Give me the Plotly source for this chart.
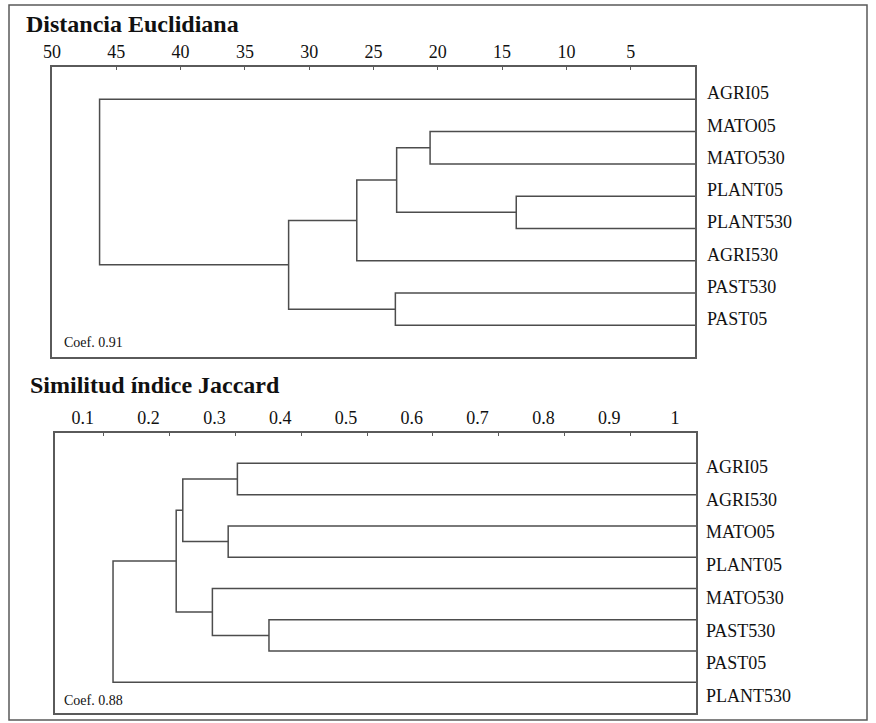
import plotly.graph_objects as go

# ---------------- data ----------------
# Panel 1: Euclidean distance (leaves at distance 0)
euc_leaves = ["AGRI05", "MATO05", "MATO530", "PLANT05", "PLANT530", "AGRI530", "PAST530", "PAST05"]
# merges: node ids 0..7 are leaves, 8.. are merged clusters in order
euc_left = [3, 1, 9, 6, 10, 12, 0]
euc_right = [4, 2, 8, 7, 5, 11, 13]
euc_height = [13.9, 20.6, 23.2, 23.3, 26.3, 31.6, 46.3]
euc_ticks = [50, 45, 40, 35, 30, 25, 20, 15, 10, 5]
euc_coef = "Coef. 0.91"

# Panel 2: Jaccard similarity (leaves at similarity 1)
jac_leaves = ["AGRI05", "AGRI530", "MATO05", "PLANT05", "MATO530", "PAST530", "PAST05", "PLANT530"]
jac_left = [5, 0, 2, 4, 9, 12, 13]
jac_right = [6, 1, 3, 8, 10, 11, 7]
jac_height = [0.351, 0.303, 0.289, 0.265, 0.220, 0.210, 0.114]
jac_ticks = [0.1, 0.2, 0.3, 0.4, 0.5, 0.6, 0.7, 0.8, 0.9, 1.0]
jac_ticktext = ["0.1", "0.2", "0.3", "0.4", "0.5", "0.6", "0.7", "0.8", "0.9", "1"]
jac_coef = "Coef. 0.88"

W, H = 876, 723
SERIF = "Liberation Serif"
LINE_C = "#4d4d4d"
BOX_C = "#5a5a5a"


def px_x(p):
    return p / W


def px_y(p):
    return 1 - p / H


def dendro_path(n_leaves, left, right, height, base):
    ypos = {i: float(i) for i in range(n_leaves)}
    hpos = {i: base for i in range(n_leaves)}
    xs, ys = [], []
    for k, (a, b, h) in enumerate(zip(left, right, height)):
        node = n_leaves + k
        xs += [hpos[a], h, h, hpos[b], None]
        ys += [ypos[a], ypos[a], ypos[b], ypos[b], None]
        ypos[node] = (ypos[a] + ypos[b]) / 2
        hpos[node] = h
    return xs, ys


fig = go.Figure()

ex, ey = dendro_path(len(euc_leaves), euc_left, euc_right, euc_height, 0.0)
fig.add_trace(go.Scatter(x=ex, y=ey, mode="lines", line=dict(color=LINE_C, width=1.5),
                         xaxis="x", yaxis="y", hoverinfo="skip", showlegend=False))

jx, jy = dendro_path(len(jac_leaves), jac_left, jac_right, jac_height, 1.0)
fig.add_trace(go.Scatter(x=jx, y=jy, mode="lines", line=dict(color=LINE_C, width=1.5),
                         xaxis="x2", yaxis="y2", hoverinfo="skip", showlegend=False))

axis_common = dict(showline=True, mirror=True, linecolor=BOX_C, linewidth=1.5,
                   showgrid=False, zeroline=False, automargin=False, fixedrange=True)

fig.update_layout(
    width=W, height=H, autosize=False,
    margin=dict(l=0, r=0, t=0, b=0, pad=0),
    paper_bgcolor="white", plot_bgcolor="white",
    font=dict(family=SERIF, color="#111111"),
    xaxis=dict(domain=[px_x(52), px_x(695)], anchor="y", side="top",
               range=[50, 0], tickmode="array", tickvals=euc_ticks,
               ticks="inside", ticklen=3, tickcolor=BOX_C,
               tickfont=dict(family=SERIF, size=18, color="#111111"),
               **axis_common),
    yaxis=dict(domain=[px_y(357), px_y(67)], anchor="x",
               range=[7.98, -1.0], showticklabels=False, ticks="",
               **axis_common),
    xaxis2=dict(domain=[px_x(55), px_x(696)], anchor="y2", side="top",
                range=[0.0258, 1.0], tickmode="array", tickvals=jac_ticks,
                ticktext=jac_ticktext, ticklabelshift=-21,
                ticks="inside", ticklen=3, tickcolor=BOX_C,
                tickfont=dict(family=SERIF, size=18, color="#111111"),
                **axis_common),
    yaxis2=dict(domain=[px_y(713), px_y(433)], anchor="x2",
                range=[7.98, -0.97], showticklabels=False, ticks="",
                **axis_common),
)

ann = []
# titles
ann.append(dict(text="<b>Distancia Euclidiana</b>", x=px_x(24), y=px_y(24), xref="paper", yref="paper",
                xanchor="left", yanchor="middle", showarrow=False,
                font=dict(family=SERIF, size=24, color="#111111")))
ann.append(dict(text="<b>Similitud índice Jaccard</b>", x=px_x(28), y=px_y(385), xref="paper", yref="paper",
                xanchor="left", yanchor="middle", showarrow=False,
                font=dict(family=SERIF, size=24, color="#111111")))
# coefficients
ann.append(dict(text=euc_coef, x=px_x(62), y=px_y(342.7), xref="paper", yref="paper",
                xanchor="left", yanchor="middle", showarrow=False,
                font=dict(family=SERIF, size=14, color="#111111")))
ann.append(dict(text=jac_coef, x=px_x(62), y=px_y(700), xref="paper", yref="paper",
                xanchor="left", yanchor="middle", showarrow=False,
                font=dict(family=SERIF, size=14, color="#111111")))
# leaf labels
for i, name in enumerate(euc_leaves):
    ann.append(dict(text=name, x=px_x(705), y=i, xref="paper", yref="y",
                    xanchor="left", yanchor="middle", yshift=6, showarrow=False,
                    font=dict(family=SERIF, size=18, color="#111111")))
for i, name in enumerate(jac_leaves):
    ann.append(dict(text=name, x=px_x(704), y=i, xref="paper", yref="y2",
                    xanchor="left", yanchor="middle", yshift=-(3.5 + 1.45 * i), showarrow=False,
                    font=dict(family=SERIF, size=18, color="#111111")))
fig.update_layout(annotations=ann)

# outer frame
fig.add_shape(type="rect", xref="paper", yref="paper",
              x0=px_x(9), x1=px_x(867), y0=px_y(720), y1=px_y(5),
              line=dict(color=BOX_C, width=1.5), fillcolor="rgba(0,0,0,0)")

fig.write_html("out.html",
               config={"displayModeBar": False, "responsive": False},
               post_script="document.body.style.margin='0';document.body.style.overflow='hidden';")
